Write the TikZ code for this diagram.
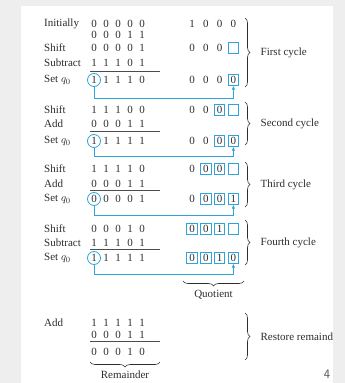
\documentclass[tikz,border=0pt]{standalone}
\usepackage{fontspec}
\setmainfont{Liberation Serif}
\usetikzlibrary{arrows.meta,decorations.pathreplacing}
\definecolor{qblue}{RGB}{45,165,220}
\definecolor{ink}{RGB}{45,45,45}
\definecolor{pagegray}{RGB}{238,238,238}

% one row of the dividend register and one row of the quotient register
\newcommand\lbits[3]{\foreach \d [count=\i from 0] in {#3}
  \node[bit] (#1\i) at (94+12*\i,#2) {\d};}
\newcommand\rbits[3]{\foreach \d/\s [count=\i from 0] in {#3}
  \node[bit,\s] (#1\i) at (192+13.8*\i,#2) {\d};}

\begin{document}
\begin{tikzpicture}[x=1pt,y=-1pt,font=\fontsize{11}{13}\selectfont,
    bit/.style={inner sep=0pt,minimum size=10.5pt,text=ink},
    plain/.style={},
    qbox/.style={draw=qblue,line width=0.8pt},
    ring/.style={circle,draw=qblue,line width=0.8pt,inner sep=0pt,minimum size=13pt},
    flow/.style={draw=qblue,line width=0.8pt,-{Latex[length=4pt,width=3.5pt]}},
    rule/.style={draw=ink!85,line width=0.8pt},
    lab/.style={anchor=west,inner sep=0pt,text=ink},
    cyc/.style={decorate,decoration={brace,amplitude=5pt},draw=ink,line width=0.6pt}]
  \useasboundingbox (0,0) rectangle (345,383);
  \fill[pagegray] (0,0) rectangle (345,383);
  \fill[white] (21,6) rectangle (333,383);

  % first cycle
  \node[lab] (la1) at (44,24) {Initially};
  \lbits{x0}{24}{0,0,0,0,0}
  \rbits{q0}{24}{1/plain,0/plain,0/plain,0/plain}
  \lbits{dv}{35}{0,0,0,1,1}
  \node[lab] (la2) at (44,48) {Shift};
  \lbits{s1}{48}{0,0,0,0,1}
  \rbits{qs1}{48}{0/plain,0/plain,0/plain,{}/qbox}
  \node[lab] (la3) at (44,63) {Subtract};
  \lbits{m1}{63}{1,1,1,0,1}
  \draw[rule] (90,71) -- (160,71);
  \node[lab] (la4) at (44,80) {Set $q_0$};
  \lbits{r1}{80}{1,1,1,1,0}
  \rbits{qr1}{80}{0/plain,0/plain,0/plain,0/qbox}
  \node[ring] (o1) at (r10) {};
  \draw[flow] (o1.south) -- ++(0,11.5) -| (qr13.south);
  \draw[cyc] (245,18) -- (245,87) node[midway,right=12pt,text=ink] (t1) {First cycle};

  % second cycle
  \node[lab] (lb1) at (44,110) {Shift};
  \lbits{s2}{110}{1,1,1,0,0}
  \rbits{qs2}{110}{0/plain,0/plain,0/qbox,{}/qbox}
  \node[lab] (lb2) at (44,124) {Add};
  \lbits{m2}{124}{0,0,0,1,1}
  \draw[rule] (90,131) -- (160,131);
  \node[lab] (lb3) at (44,141) {Set $q_0$};
  \lbits{r2}{141}{1,1,1,1,1}
  \rbits{qr2}{141}{0/plain,0/plain,0/qbox,0/qbox}
  \node[ring] (o2) at (r20) {};
  \draw[flow] (o2.south) -- ++(0,8.5) -| (qr23.south);
  \draw[cyc] (245,102) -- (245,145) node[midway,right=12pt,text=ink] (t2) {Second cycle};

  % third cycle
  \node[lab] (lc1) at (44,169) {Shift};
  \lbits{s3}{169}{1,1,1,1,0}
  \rbits{qs3}{169}{0/plain,0/qbox,0/qbox,{}/qbox}
  \node[lab] (lc2) at (44,184) {Add};
  \lbits{m3}{184}{0,0,0,1,1}
  \draw[rule] (90,190.5) -- (160,190.5);
  \node[lab] (lc3) at (44,199) {Set $q_0$};
  \lbits{r3}{199}{0,0,0,0,1}
  \rbits{qr3}{199}{0/plain,0/qbox,0/qbox,1/qbox}
  \node[ring] (o3) at (r30) {};
  \draw[flow] (o3.south) -- ++(0,9.5) -| (qr33.south);
  \draw[cyc] (245,162) -- (245,207) node[midway,right=12pt,text=ink] (t3) {Third cycle};

  % fourth cycle
  \node[lab] (ld1) at (44,229) {Shift};
  \lbits{s4}{229}{0,0,0,1,0}
  \rbits{qs4}{229}{0/qbox,0/qbox,1/qbox,{}/qbox}
  \node[lab] (ld2) at (44,243) {Subtract};
  \lbits{m4}{243}{1,1,1,0,1}
  \draw[rule] (90,249.5) -- (160,249.5);
  \node[lab] (ld3) at (44,258) {Set $q_0$};
  \lbits{r4}{258}{1,1,1,1,1}
  \rbits{qr4}{258}{0/qbox,0/qbox,1/qbox,0/qbox}
  \node[ring] (o4) at (r40) {};
  \draw[flow] (o4.south) -- ++(0,9.5) -| (qr43.south);
  \draw[cyc] (245,220) -- (245,265) node[midway,right=12pt,text=ink] (t4) {Fourth cycle};
  \draw[cyc] (244,281) -- (183,281) node[midway,below=6pt,text=ink] (qt) {Quotient};

  % restore
  \node[lab] (le1) at (44,323) {Add};
  \lbits{a5}{323}{1,1,1,1,1}
  \lbits{b5}{335}{0,0,0,1,1}
  \draw[rule] (90,341.5) -- (160,341.5);
  \lbits{r5}{352}{0,0,0,1,0}
  \draw[cyc] (245,313) -- (245,360) node[midway,right=12pt,text=ink] (t5) {Restore remaind};
  \draw[cyc] (160,362) -- (90,362) node[midway,below=5pt,text=ink] (rm) {Remainder};

  \node[text=ink!80,font=\sffamily\fontsize{13}{15}\selectfont] (pg) at (327,374) {4};
\end{tikzpicture}
\end{document}
